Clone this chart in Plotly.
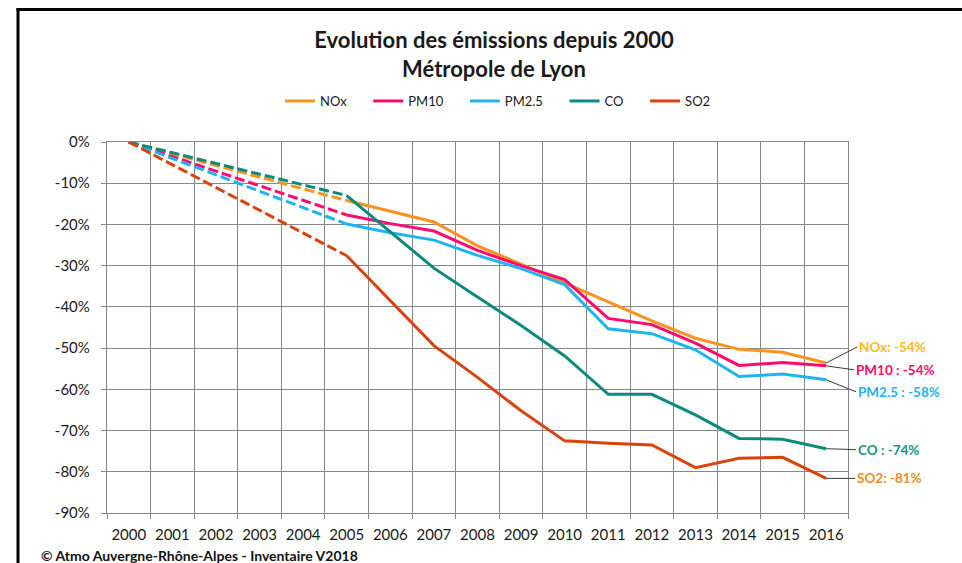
import plotly.graph_objects as go

# ---------------- data ----------------
years = [2000, 2005, 2006, 2007, 2008, 2009, 2010, 2011, 2012, 2013, 2014, 2015, 2016]
series_names = ["NOx", "PM10", "PM2.5", "CO", "SO2"]
nox = [0, -14.2, -16.8, -19.4, -25.2, -29.6, -34.2, -38.8, -43.4, -47.6, -50.3, -51.0, -53.6]
pm10 = [0, -17.7, -19.8, -21.6, -26.3, -30.0, -33.4, -42.8, -44.3, -48.8, -54.2, -53.5, -54.3]
pm25 = [0, -19.9, -22.0, -23.8, -27.5, -30.7, -34.6, -45.3, -46.5, -50.4, -56.9, -56.3, -57.7]
co = [0, -13.0, -21.8, -30.6, -37.6, -44.5, -51.9, -61.2, -61.2, -66.2, -71.9, -72.1, -74.4]
so2 = [0, -27.6, -38.5, -49.4, -57.1, -65.2, -72.5, -73.1, -73.5, -79.0, -76.7, -76.5, -81.6]
end_labels = ["NOx: -54%", "PM10 : -54%", "PM2.5 : -58%", "CO : -74%", "SO2: -81%"]
year_ticks = list(range(2000, 2017))
y_ticks = [0, -10, -20, -30, -40, -50, -60, -70, -80, -90]
y_ticktext = ["0%", "-10%", "-20%", "-30%", "-40%", "-50%", "-60%", "-70%", "-80%", "-90%"]

# ---------------- style ----------------
line_colors = ["#F7941E", "#FF0A6E", "#1DB5F0", "#0E8A7C", "#D8430E"]
label_colors = ["#FFB81C", "#FF0A6E", "#1DB5F0", "#16958A", "#F08A28"]
label_offsets = [(31, -16), (28, 4), (30, 12), (30, 1), (29, 0)]
LEGEND_PAD = "\u00a0" * 5
FONT = "Lato"
W, H = 962, 563
L, R, T, B = 107, 848, 142, 513


def px(xp):
    return (xp - L) / (R - L)


def py(yp):
    return (B - yp) / (B - T)


fig = go.Figure()
all_series = [nox, pm10, pm25, co, so2]
for name, vals, col in zip(series_names, all_series, line_colors):
    # dashed interpolation segment (2000 -> 2005)
    fig.add_trace(go.Scatter(
        x=years[:2], y=vals[:2], mode="lines", name=name, legendgroup=name,
        showlegend=False, line=dict(color=col, width=3, dash="10px,4px"),
        hoverinfo="skip"))
    fig.add_trace(go.Scatter(
        x=years[1:], y=vals[1:], mode="lines", name=name + LEGEND_PAD, legendgroup=name,
        line=dict(color=col, width=3)))

annotations = []
for vals, txt, col, (ax, ay) in zip(all_series, end_labels, label_colors, label_offsets):
    annotations.append(dict(
        x=years[-1], y=vals[-1], xref="x", yref="y", text="<b>" + txt + "</b>",
        showarrow=True, arrowhead=0, arrowwidth=1, arrowcolor="#3a3a3a",
        ax=ax, ay=ay, xanchor="left", yanchor="middle", standoff=0,
        font=dict(family=FONT, size=13.5, color=col)))

annotations.append(dict(
    x=px(39), y=py(555), xref="paper", yref="paper", showarrow=False,
    xanchor="left", yanchor="middle",
    text="<b>© Atmo Auvergne-Rhône-Alpes - Inventaire V2018</b>",
    font=dict(family=FONT, size=14, color="#111111")))

grid_col = "#878787"
fig.update_layout(
    width=W, height=H,
    margin=dict(l=L, r=W - R, t=T, b=H - B, pad=0),
    paper_bgcolor="white", plot_bgcolor="white",
    font=dict(family=FONT, size=15, color="#1a1a1a"),
    title=dict(text="<b>Evolution des émissions depuis 2000<br>Métropole de Lyon</b>",
               xref="paper", yref="container", x=px(494), y=1 - 54 / H,
               xanchor="center", yanchor="middle",
               font=dict(family=FONT, size=22, color="#1a1a1a")),
    legend=dict(orientation="h", x=px(280), y=py(101), xanchor="left", yanchor="middle",
                font=dict(family=FONT, size=13, color="#1a1a1a"),
                bgcolor="rgba(0,0,0,0)", itemwidth=30, tracegroupgap=0),
    xaxis=dict(range=[1999.5, 2016.5], tickvals=year_ticks, showgrid=False,
               ticks="", showline=True, linecolor=grid_col, linewidth=1.3, mirror=True,
               zeroline=False, ticklabelstandoff=8,
               minor=dict(tick0=1999.5, dtick=1, showgrid=True, gridcolor=grid_col,
                          gridwidth=1.3, ticks="outside", ticklen=5, tickcolor=grid_col),
               tickfont=dict(family=FONT, size=15, color="#1a1a1a")),
    yaxis=dict(range=[-90, 0], tickvals=y_ticks, ticktext=y_ticktext, showgrid=True,
               gridcolor=grid_col, gridwidth=1.3, ticks="outside", ticklen=5,
               tickcolor=grid_col, showline=True, linecolor=grid_col, linewidth=1.3,
               mirror=True, zeroline=False, ticklabelstandoff=8,
               tickfont=dict(family=FONT, size=15, color="#1a1a1a")),
    annotations=annotations,
    shapes=[
        dict(type="line", xref="paper", yref="paper", x0=px(16.5), x1=px(975),
             y0=py(9.5), y1=py(9.5), line=dict(color="black", width=3)),
        dict(type="line", xref="paper", yref="paper", x0=px(18), x1=px(18),
             y0=py(8), y1=py(580), line=dict(color="black", width=3)),
    ],
)
fig.update_layout(title_y=1 - 48 / H)

fig.write_html("out.html", config={"displayModeBar": False},
               post_script="document.body.style.margin='0px';")
